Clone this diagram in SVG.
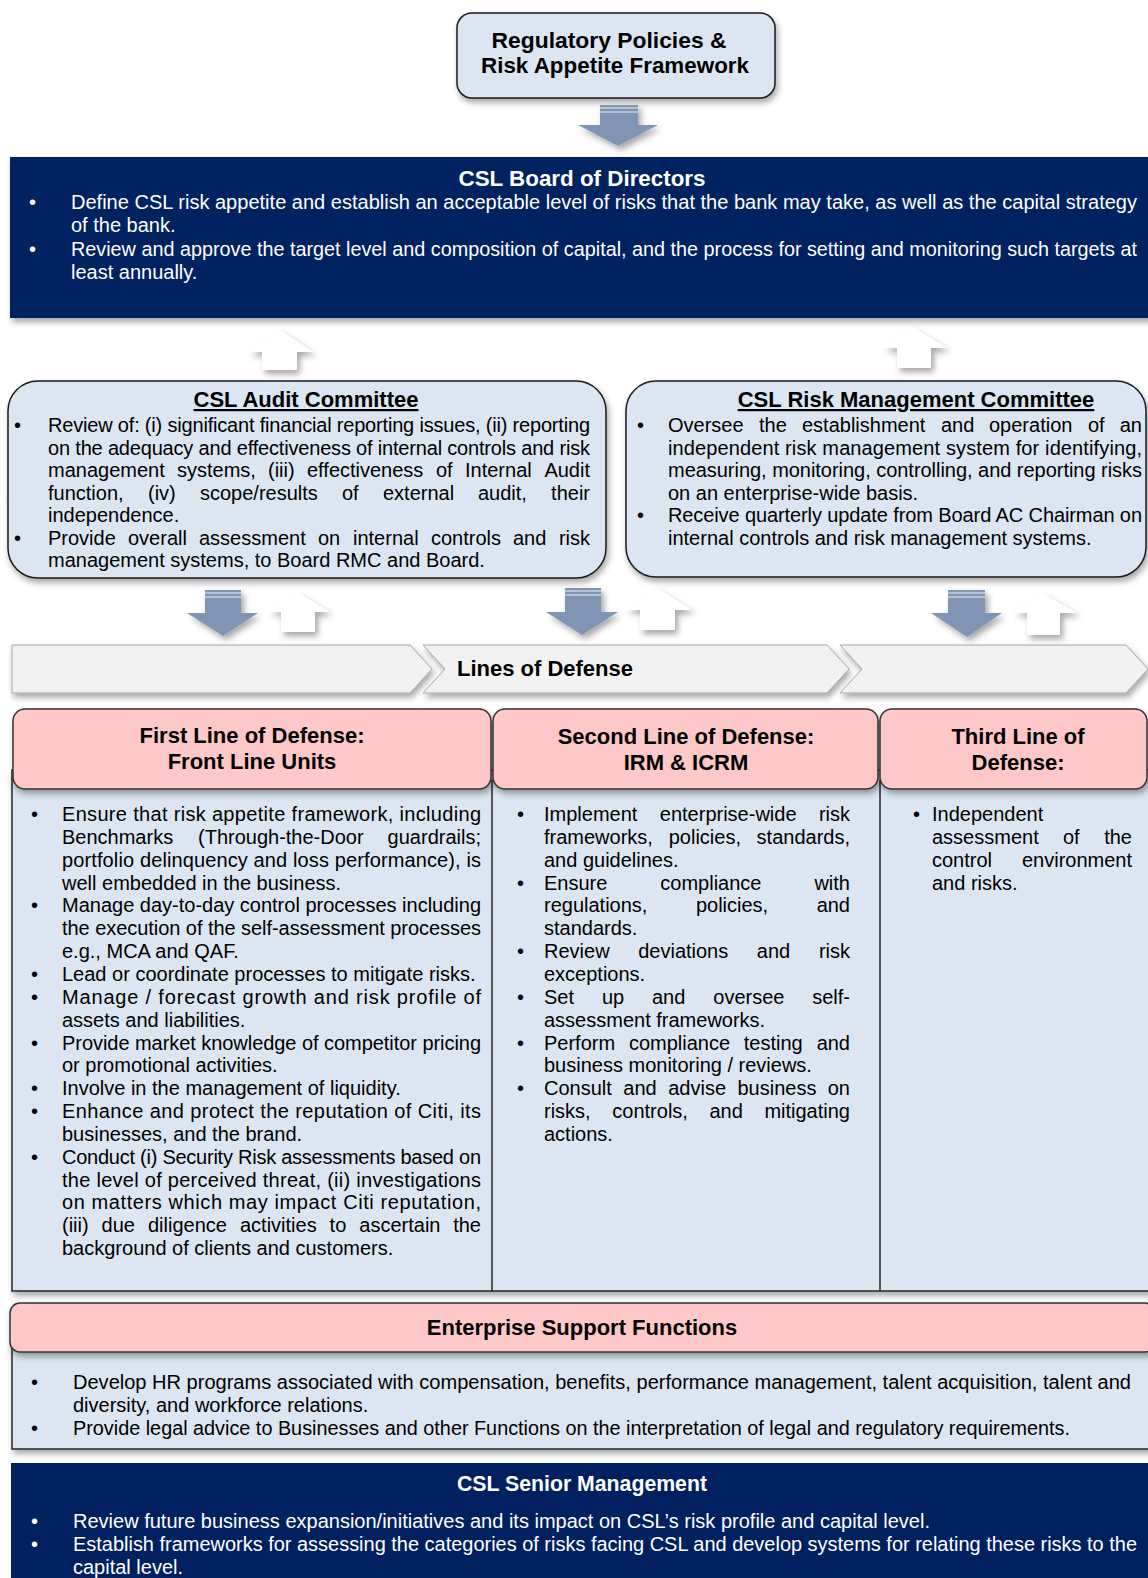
<svg xmlns="http://www.w3.org/2000/svg" width="1148" height="1578" viewBox="0 0 1148 1578">
<defs>
<filter id="sh" x="-5%" y="-10%" width="110%" height="135%"><feDropShadow dx="2" dy="4" stdDeviation="3" flood-color="#000" flood-opacity="0.35"/></filter>
<filter id="sha" x="-40%" y="-30%" width="180%" height="170%"><feDropShadow dx="3" dy="4" stdDeviation="3" flood-color="#000" flood-opacity="0.35"/></filter>
</defs>
<style>
.t{font-family:"Liberation Sans",Arial,Helvetica,sans-serif;font-size:20px;fill:#000}
.w{fill:#fff}
.hd{font-weight:bold;font-size:22px;text-anchor:middle}
.e{text-anchor:end}
.u{text-decoration:underline}
.lb{fill:#dce6f2;stroke:#1a1a1a;stroke-width:1.5}
.pk{fill:#ffc8c8;stroke:#333;stroke-width:1.5}
.nv{fill:#002060}
.chev{fill:#f2f2f2;stroke:#a6a6a6;stroke-width:1}
.da{fill:#7f95b3}
.ua{fill:#fff}
.st{stroke:#c5d0de;stroke-width:1.5}
</style>

<g id="regulatory-policies">
<rect x="457" y="13" width="318" height="85" rx="15" class="lb" filter="url(#sh)"/>
<text class="t hd" x="609" y="48" textLength="235" lengthAdjust="spacingAndGlyphs">Regulatory Policies &amp;</text>
<text class="t hd" x="615" y="73" textLength="268" lengthAdjust="spacingAndGlyphs">Risk Appetite Framework</text>
</g>

<g id="board-of-directors">
<rect x="10" y="157" width="1145" height="161" class="nv" filter="url(#sh)"/>
<text class="t w hd" x="582" y="186" textLength="247" lengthAdjust="spacingAndGlyphs">CSL Board of Directors</text>
<text class="t w" x="29" y="209">•</text>
<text class="t w" x="71" y="209" textLength="1066" lengthAdjust="spacingAndGlyphs">Define CSL risk appetite and establish an acceptable level of risks that the bank may take, as well as the capital strategy</text>
<text class="t w" x="71" y="232">of the bank.</text>
<text class="t w" x="29" y="256">•</text>
<text class="t w" x="71" y="256" textLength="1066" lengthAdjust="spacingAndGlyphs">Review and approve the target level and composition of capital, and the process for setting and monitoring such targets at</text>
<text class="t w" x="71" y="279">least annually.</text>
</g>

<g id="audit-committee">
<rect x="8" y="381" width="598" height="197" rx="30" class="lb" filter="url(#sh)"/>
<text class="t hd u" x="306" y="407">CSL Audit Committee</text>
<text class="t" x="14" y="432">•</text>
<text class="t" x="48" y="432" textLength="542" lengthAdjust="spacing">Review of: (i) significant financial reporting issues, (ii) reporting</text>
<text class="t" x="48" y="454.5" textLength="542" lengthAdjust="spacing">on the adequacy and effectiveness of internal controls and risk</text>
<text class="t" x="48" y="477">management</text>
<text class="t" x="177" y="477">systems,</text>
<text class="t" x="268" y="477">(iii)</text>
<text class="t" x="307" y="477">effectiveness</text>
<text class="t" x="436" y="477">of</text>
<text class="t" x="465" y="477">Internal</text>
<text class="t e" x="590" y="477">Audit</text>
<text class="t" x="48" y="499.5">function,</text>
<text class="t" x="148" y="499.5">(iv)</text>
<text class="t" x="200" y="499.5">scope/results</text>
<text class="t" x="342" y="499.5">of</text>
<text class="t" x="383" y="499.5">external</text>
<text class="t" x="478" y="499.5">audit,</text>
<text class="t e" x="590" y="499.5">their</text>
<text class="t" x="48" y="522">independence.</text>
<text class="t" x="14" y="544.5">•</text>
<text class="t" x="48" y="544.5">Provide</text>
<text class="t" x="128" y="544.5">overall</text>
<text class="t" x="199" y="544.5">assessment</text>
<text class="t" x="318" y="544.5">on</text>
<text class="t" x="353" y="544.5">internal</text>
<text class="t" x="431" y="544.5">controls</text>
<text class="t" x="513" y="544.5">and</text>
<text class="t e" x="590" y="544.5">risk</text>
<text class="t" x="48" y="567">management systems, to Board RMC and Board.</text>
</g>

<g id="risk-management-committee">
<rect x="626" y="381" width="520" height="196" rx="30" class="lb" filter="url(#sh)"/>
<text class="t hd u" x="916" y="407">CSL Risk Management Committee</text>
<text class="t" x="637" y="432">•</text>
<text class="t" x="668" y="432">Oversee</text>
<text class="t" x="759" y="432">the</text>
<text class="t" x="802" y="432">establishment</text>
<text class="t" x="941" y="432">and</text>
<text class="t" x="989" y="432">operation</text>
<text class="t" x="1088" y="432">of</text>
<text class="t e" x="1142" y="432">an</text>
<text class="t" x="668" y="454.5" textLength="474" lengthAdjust="spacing">independent risk management system for identifying,</text>
<text class="t" x="668" y="477" textLength="474" lengthAdjust="spacing">measuring, monitoring, controlling, and reporting risks</text>
<text class="t" x="668" y="499.5">on an enterprise-wide basis.</text>
<text class="t" x="637" y="522">•</text>
<text class="t" x="668" y="522" textLength="474" lengthAdjust="spacing">Receive quarterly update from Board AC Chairman on</text>
<text class="t" x="668" y="544.5">internal controls and risk management systems.</text>
</g>

<g id="lines-of-defense">
<polygon class="chev" points="12,645 410,645 432,669 410,693 12,693" filter="url(#sh)"/>
<polygon class="chev" points="423,645 827,645 849,669 827,693 423,693 445,669" filter="url(#sh)"/>
<polygon class="chev" points="840,645 1126,645 1148,669 1126,693 840,693 862,669" filter="url(#sh)"/>
<text class="t hd" x="545" y="676">Lines of Defense</text>
</g>

<g id="defense-table">
<rect x="12" y="770" width="1145" height="521" fill="#dce6f2" stroke="#262626" stroke-width="1.5" filter="url(#sh)"/>
<line x1="492" y1="780" x2="492" y2="1291" stroke="#262626" stroke-width="1.5"/>
<line x1="880" y1="780" x2="880" y2="1291" stroke="#262626" stroke-width="1.5"/>
</g>

<g id="first-line">
<rect x="13" y="709" width="478" height="80" rx="12" class="pk" filter="url(#sh)"/>
<text class="t hd" x="252" y="743">First Line of Defense:</text>
<text class="t hd" x="252" y="769">Front Line Units</text>
<text class="t" x="31" y="821">•</text>
<text class="t" x="62" y="821" textLength="419" lengthAdjust="spacing">Ensure that risk appetite framework, including</text>
<text class="t" x="62" y="844">Benchmarks</text>
<text class="t" x="198" y="844">(Through-the-Door</text>
<text class="t e" x="481" y="844">guardrails;</text>
<text class="t" x="62" y="867" textLength="419" lengthAdjust="spacing">portfolio delinquency and loss performance), is</text>
<text class="t" x="62" y="890">well embedded in the business.</text>
<text class="t" x="31" y="912">•</text>
<text class="t" x="62" y="912" textLength="419" lengthAdjust="spacing">Manage day-to-day control processes including</text>
<text class="t" x="62" y="935" textLength="419" lengthAdjust="spacing">the execution of the self-assessment processes</text>
<text class="t" x="62" y="958">e.g., MCA and QAF.</text>
<text class="t" x="31" y="981">•</text>
<text class="t" x="62" y="981">Lead or coordinate processes to mitigate risks.</text>
<text class="t" x="31" y="1004">•</text>
<text class="t" x="62" y="1004" textLength="419" lengthAdjust="spacing">Manage / forecast growth and risk profile of</text>
<text class="t" x="62" y="1027">assets and liabilities.</text>
<text class="t" x="31" y="1050">•</text>
<text class="t" x="62" y="1050" textLength="419" lengthAdjust="spacing">Provide market knowledge of competitor pricing</text>
<text class="t" x="62" y="1072">or promotional activities.</text>
<text class="t" x="31" y="1095">•</text>
<text class="t" x="62" y="1095">Involve in the management of liquidity.</text>
<text class="t" x="31" y="1118">•</text>
<text class="t" x="62" y="1118" textLength="419" lengthAdjust="spacing">Enhance and protect the reputation of Citi, its</text>
<text class="t" x="62" y="1141">businesses, and the brand.</text>
<text class="t" x="31" y="1164">•</text>
<text class="t" x="62" y="1164" textLength="419" lengthAdjust="spacing">Conduct (i) Security Risk assessments based on</text>
<text class="t" x="62" y="1187" textLength="419" lengthAdjust="spacing">the level of perceived threat, (ii) investigations</text>
<text class="t" x="62" y="1209" textLength="419" lengthAdjust="spacing">on matters which may impact Citi reputation,</text>
<text class="t" x="62" y="1232">(iii)</text>
<text class="t" x="101.6" y="1232">due</text>
<text class="t" x="148" y="1232">diligence</text>
<text class="t" x="240" y="1232">activities</text>
<text class="t" x="329.6" y="1232">to</text>
<text class="t" x="359.3" y="1232">ascertain</text>
<text class="t e" x="481" y="1232">the</text>
<text class="t" x="62" y="1255">background of clients and customers.</text>
</g>

<g id="second-line">
<rect x="493" y="709" width="385" height="80" rx="12" class="pk" filter="url(#sh)"/>
<text class="t hd" x="686" y="744">Second Line of Defense:</text>
<text class="t hd" x="686" y="770">IRM &amp; ICRM</text>
<text class="t" x="517" y="821">•</text>
<text class="t" x="544" y="821">Implement</text>
<text class="t" x="659.8" y="821">enterprise-wide</text>
<text class="t e" x="850" y="821">risk</text>
<text class="t" x="544" y="844">frameworks,</text>
<text class="t" x="668.7" y="844">policies,</text>
<text class="t e" x="850" y="844">standards,</text>
<text class="t" x="544" y="867">and guidelines.</text>
<text class="t" x="517" y="890">•</text>
<text class="t" x="544" y="890">Ensure</text>
<text class="t" x="660.3" y="890">compliance</text>
<text class="t e" x="850" y="890">with</text>
<text class="t" x="544" y="912">regulations,</text>
<text class="t" x="695.9" y="912">policies,</text>
<text class="t e" x="850" y="912">and</text>
<text class="t" x="544" y="935">standards.</text>
<text class="t" x="517" y="958">•</text>
<text class="t" x="544" y="958">Review</text>
<text class="t" x="638.2" y="958">deviations</text>
<text class="t" x="756.8" y="958">and</text>
<text class="t e" x="850" y="958">risk</text>
<text class="t" x="544" y="981">exceptions.</text>
<text class="t" x="517" y="1004">•</text>
<text class="t" x="544" y="1004">Set</text>
<text class="t" x="601.9" y="1004">up</text>
<text class="t" x="652" y="1004">and</text>
<text class="t" x="713.3" y="1004">oversee</text>
<text class="t e" x="850" y="1004">self-</text>
<text class="t" x="544" y="1027">assessment frameworks.</text>
<text class="t" x="517" y="1050">•</text>
<text class="t" x="544" y="1050">Perform</text>
<text class="t" x="628.9" y="1050">compliance</text>
<text class="t" x="743.8" y="1050">testing</text>
<text class="t e" x="850" y="1050">and</text>
<text class="t" x="544" y="1072">business monitoring / reviews.</text>
<text class="t" x="517" y="1095">•</text>
<text class="t" x="544" y="1095">Consult</text>
<text class="t" x="623.3" y="1095">and</text>
<text class="t" x="668.2" y="1095">advise</text>
<text class="t" x="737.5" y="1095">business</text>
<text class="t e" x="850" y="1095">on</text>
<text class="t" x="544" y="1118">risks,</text>
<text class="t" x="612.3" y="1118">controls,</text>
<text class="t" x="709.5" y="1118">and</text>
<text class="t e" x="850" y="1118">mitigating</text>
<text class="t" x="544" y="1141">actions.</text>
</g>

<g id="third-line">
<rect x="880" y="709" width="267" height="80" rx="12" class="pk" filter="url(#sh)"/>
<text class="t hd" x="1018" y="744">Third Line of</text>
<text class="t hd" x="1018" y="770">Defense:</text>
<text class="t" x="913" y="821">•</text>
<text class="t" x="932" y="821">Independent</text>
<text class="t" x="932" y="844">assessment</text>
<text class="t" x="1063" y="844">of</text>
<text class="t e" x="1132" y="844">the</text>
<text class="t" x="932" y="867">control</text>
<text class="t e" x="1132" y="867">environment</text>
<text class="t" x="932" y="890">and risks.</text>
</g>

<g id="enterprise-support">
<rect x="12" y="1340" width="1145" height="109" fill="#dce6f2" stroke="#262626" stroke-width="1.5" filter="url(#sh)"/>
<rect x="10" y="1303" width="1145" height="49" rx="10" class="pk" filter="url(#sh)"/>
<text class="t hd" x="582" y="1335">Enterprise Support Functions</text>
<text class="t" x="31" y="1389">•</text>
<text class="t" x="73" y="1389" textLength="1058" lengthAdjust="spacingAndGlyphs">Develop HR programs associated with compensation, benefits, performance management, talent acquisition, talent and</text>
<text class="t" x="73" y="1412">diversity, and workforce relations.</text>
<text class="t" x="31" y="1435">•</text>
<text class="t" x="73" y="1435" textLength="997" lengthAdjust="spacingAndGlyphs">Provide legal advice to Businesses and other Functions on the interpretation of legal and regulatory requirements.</text>
</g>

<g id="senior-management">
<rect x="11" y="1463" width="1145" height="120" class="nv"/>
<text class="t w hd" x="582" y="1491" textLength="250" lengthAdjust="spacingAndGlyphs">CSL Senior Management</text>
<text class="t w" x="31" y="1528">•</text>
<text class="t w" x="73" y="1528" textLength="857" lengthAdjust="spacingAndGlyphs">Review future business expansion/initiatives and its impact on CSL’s risk profile and capital level.</text>
<text class="t w" x="31" y="1551">•</text>
<text class="t w" x="73" y="1551" textLength="1064" lengthAdjust="spacingAndGlyphs">Establish frameworks for assessing the categories of risks facing CSL and develop systems for relating these risks to the</text>
<text class="t w" x="73" y="1574">capital level.</text>
</g>

<g id="connectors">
<polygon class="da" filter="url(#sha)" points="600,105 638,105 638,125 658,125 618,146 578,125 600,125"/>
<line class="st" x1="600" y1="108" x2="638" y2="108"/><line class="st" x1="600" y1="112" x2="638" y2="112"/>

<polygon class="ua" filter="url(#sha)" points="280,330 313,352 297,352 297,370 262,370 262,352 248,352"/>
<polygon class="ua" filter="url(#sha)" points="914,328 947,348 931,348 931,368 897,368 897,348 882,348"/>

<polygon class="da" filter="url(#sha)" points="205,590 241,590 241,613 258,613 223,636 187,613 205,613"/>
<line class="st" x1="205" y1="593" x2="241" y2="593"/><line class="st" x1="205" y1="597" x2="241" y2="597"/>
<polygon class="ua" filter="url(#sha)" points="298,593 330,612 315,612 315,632 281,632 281,612 268,612"/>

<polygon class="da" filter="url(#sha)" points="565,588 601,588 601,612 618,612 582,635 546,612 565,612"/>
<line class="st" x1="565" y1="591" x2="601" y2="591"/><line class="st" x1="565" y1="595" x2="601" y2="595"/>
<polygon class="ua" filter="url(#sha)" points="658,589 692,610 675,610 675,630 640,630 640,610 625,610"/>

<polygon class="da" filter="url(#sha)" points="948,590 985,590 985,613 1002,613 967,637 931,613 948,613"/>
<line class="st" x1="948" y1="593" x2="985" y2="593"/><line class="st" x1="948" y1="597" x2="985" y2="597"/>
<polygon class="ua" filter="url(#sha)" points="1043,594 1077,613 1060,613 1060,635 1027,635 1027,613 1013,613"/>
</g>
</svg>
